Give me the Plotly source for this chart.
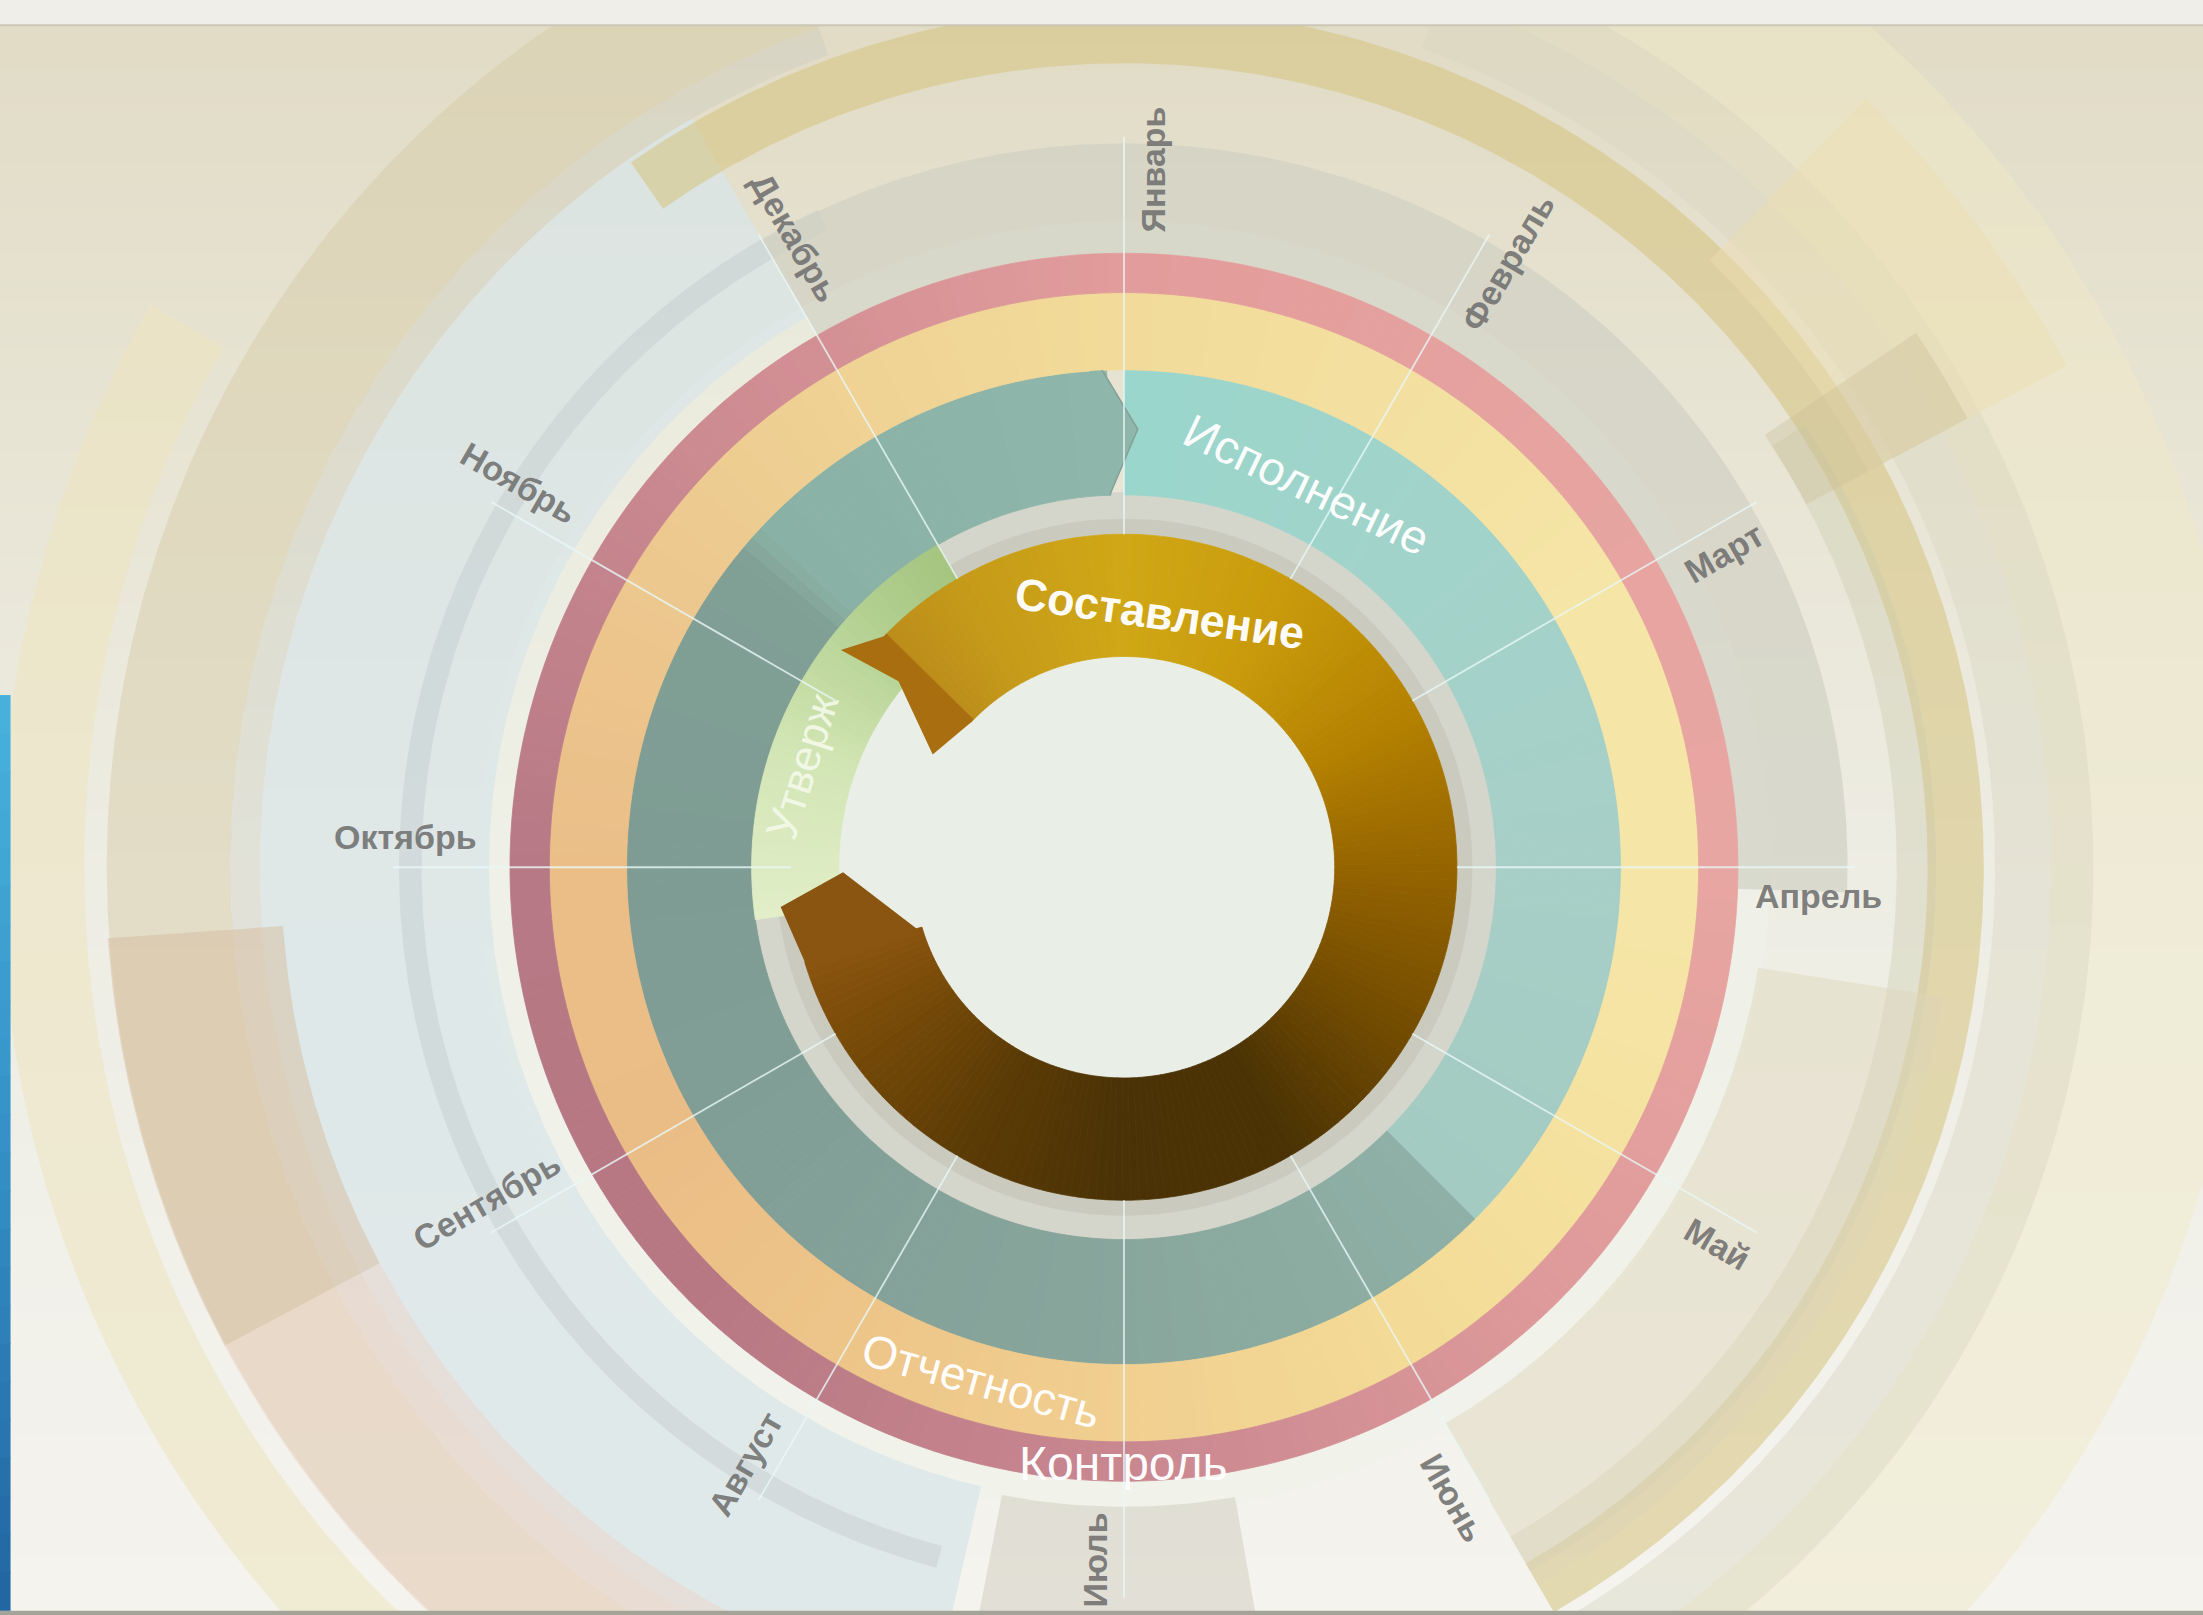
import numpy as np
import plotly.graph_objects as go

# ---------------- data ----------------
months = ["Январь", "Февраль", "Март", "Апрель", "Май", "Июнь",
          "Июль", "Август", "Сентябрь", "Октябрь", "Ноябрь", "Декабрь"]

phases = ["Составление", "Утверждение", "Исполнение", "Отчетность", "Контроль"]
# position along the year in months (0 = start of Январь, clockwise)
phase_start = [10.43, 8.73, 0.0, 0.0, 0.0]
phase_end = [20.45, 11.0, 4.5, 12.0, 12.0]
phase_text = ["Составление", "Утверж", "Исполнение", "Отчетность", "Контроль"]

# ---------------- style ----------------
W, H = 2203, 1615
UX0, UX1 = -800, 768          # design units (1 unit = 1.405 px)
UY0, UY1 = -532, 617
RP = 527                       # polar radius in design units
ring_in = [150, 203, 265, 354, 409]
ring_out = [237, 265, 354, 409, 437]
label_r = [182, 240, 302, 379, 424]
label_deg = [8, 287.5, 25.5, 195.5, 180]
label_size = [45, 44, 47, 46, 48]
label_bold = [True, False, False, False, False]
month_label_r = [497, 510, 482, 495, 500, 506, 493, 503, 512, 512, 510, 506]
DEG = 30.0


def hex2rgb(h):
    return np.array([int(h[i:i + 2], 16) for i in (1, 3, 5)], dtype=float)


def grad_colors(angles, stops):
    a = np.array([s[0] for s in stops], dtype=float)
    c = np.array([hex2rgb(s[1]) for s in stops])
    out = []
    for t in angles:
        rgb = [np.interp(t, a, c[:, k]) for k in range(3)]
        out.append("rgb(%d,%d,%d)" % tuple(int(round(v)) for v in rgb))
    return out


def grad_ring(t0, t1, rin, rout, stops, step=1.5):
    n = max(1, int(np.ceil(abs(t1 - t0) / step)))
    edges = np.linspace(t0, t1, n + 1)
    cen = (edges[:-1] + edges[1:]) / 2
    wid = np.diff(edges)
    cols = grad_colors(cen, stops)
    return go.Barpolar(theta=cen % 360, width=wid, base=[rin] * n, r=[rout - rin] * n,
                       marker=dict(color=cols, line=dict(color=cols, width=0.8)),
                       hoverinfo="skip", showlegend=False, subplot="polar")


def solid_ring(t0, t1, rin, rout, color):
    return go.Barpolar(theta=[((t0 + t1) / 2) % 360], width=[t1 - t0], base=[rin], r=[rout - rin],
                       marker=dict(color=color, line=dict(width=0)),
                       hoverinfo="skip", showlegend=False, subplot="polar")


def sector_xy(rin, rout, t0, t1):
    th = np.radians(np.linspace(t0, t1, int(abs(t1 - t0) * 2) + 2))
    x = np.concatenate([rout * np.sin(th), rin * np.sin(th[::-1])])
    y = np.concatenate([rout * np.cos(th), rin * np.cos(th[::-1])])
    return np.append(x, x[0]), np.append(y, y[0])


fig = go.Figure()

# ---------- background gradient ----------
yy = np.linspace(UY0, UY1, 40)
fig.add_trace(go.Heatmap(x=[UX0, UX1], y=yy, z=[[v, v] for v in yy], zsmooth="best",
                         colorscale=[[0, "#f4f3ee"], [0.45, "#eeede4"], [0.8, "#e6e2d0"], [1, "#e1dbc5"]],
                         showscale=False, hoverinfo="skip"))

# ---------- decorative outer rings ----------
decor = [
    (740, 800, 195, 300, "rgba(236,228,190,0.55)"),
    (660, 800, 25, 165, "rgba(240,232,198,0.45)"),
    (636, 724, 200, 345, "rgba(212,202,165,0.45)"),
    (615, 636, 200, 340, "rgba(195,198,190,0.30)"),
    (437, 460, 0, 360, "rgba(240,243,236,0.45)"),
    (452, 615, 193, 330, "rgba(218,229,232,0.75)"),
    (500, 516, 195, 335, "rgba(185,195,198,0.35)"),
    (600, 725, 242, 266, "rgba(214,188,158,0.50)"),
    (600, 725, 205, 242, "rgba(236,212,200,0.50)"),
    (437, 515, 330, 452, "rgba(208,208,195,0.70)"),
    (572, 612, 325, 510, "rgba(214,194,125,0.55)"),
    (550, 578, 57, 150, "rgba(200,200,170,0.35)"),
    (620, 690, 20, 160, "rgba(215,212,190,0.40)"),
    (600, 760, 44, 62, "rgba(238,222,175,0.45)"),
    (550, 680, 56, 62, "rgba(200,188,150,0.35)"),
    (455, 560, 170, 191, "rgba(205,200,185,0.45)"),
    (457, 590, 99, 150, "rgba(222,212,185,0.45)"),
]
for rin, rout, t0, t1, col in decor:
    x, y = sector_xy(rin, rout, t0, t1)
    fig.add_trace(go.Scatter(x=x, y=y, mode="lines", fill="toself", fillcolor=col,
                             line=dict(width=0), hoverinfo="skip", showlegend=False))

# ---------- main rings (polar) ----------
fig.add_trace(solid_ring(0, 360, 0, 203, "#e9eee6"))
fig.add_trace(solid_ring(0, 360, 237, 267, "#d5d6cb"))
fig.add_trace(solid_ring(0, 360, 237, 248, "rgba(120,120,100,0.12)"))

# Исполнение ring (teal)
s, e = phase_start[2] * DEG, phase_end[2] * DEG
fig.add_trace(grad_ring(e, 358, ring_in[2], ring_out[2],
                        [(135, "#8fb0a6"), (180, "#88a69c"), (230, "#819f96"), (270, "#7e9c93"),
                         (309, "#809f95"), (313, "#8ab1a5"), (340, "#8db4a8"), (358, "#8fb6aa")]))
fig.add_trace(grad_ring(s, e, ring_in[2], ring_out[2],
                        [(0, "#9ad6cc"), (45, "#a2d3ca"), (90, "#a7cfc7"), (135, "#a4cbc2")]))

# Отчетность ring (yellow / orange)
fig.add_trace(grad_ring(0, 360, ring_in[3], ring_out[3],
                        [(0, "#f2db9a"), (30, "#f3e0a0"), (60, "#f5e5a6"), (90, "#f5e6a8"),
                         (120, "#f5e2a0"), (150, "#f3da96"), (180, "#f1cf90"), (210, "#edc589"),
                         (240, "#ebbd86"), (270, "#ebbe88"), (300, "#ecc78e"), (330, "#efd294"),
                         (360, "#f2db9a")]))
# Контроль ring (pink)
fig.add_trace(grad_ring(0, 360, ring_in[4], ring_out[4],
                        [(0, "#e29c9b"), (45, "#e6a3a0"), (90, "#e8a6a2"), (135, "#de9a9a"),
                         (180, "#c98790"), (225, "#b77883"), (270, "#b67985"), (315, "#cc8a91"),
                         (360, "#e29c9b")]))

# Утверждение ring (green)
fig.add_trace(grad_ring(phase_start[1] * DEG, phase_end[1] * DEG, ring_in[1], ring_out[1],
                        [(262, "#e1eec8"), (290, "#d2e5b4"), (315, "#b2d090"), (330, "#a4c47f")]))

# Составление arrow (brown)
b0, b1 = phase_start[0] * DEG, phase_end[0] * DEG
fig.add_trace(grad_ring(b0 + 0.5, b1, ring_in[0], ring_out[0],
                        [(313, "#bb8c1a"), (330, "#c69a19"), (360, "#d0a716"), (390, "#c99b0c"),
                         (420, "#b68300"), (450, "#956400"), (480, "#734c00"), (510, "#4a3204"),
                         (540, "#4a3206"), (570, "#5b3b05"), (600, "#7a4c08"), (615, "#8b5510")]))

# teal chevron (scatter layer)
fig.add_trace(go.Scatterpolar(r=[ring_out[2], 312, ring_in[2], ring_in[2], ring_out[2]],
                              theta=[357.5, 1.8, 357.8, 356, 356], mode="lines", fill="toself",
                              fillcolor="#8fb6aa", line=dict(width=0),
                              hoverinfo="skip", showlegend=False, subplot="polar"))
fig.add_trace(go.Scatterpolar(r=[ring_out[2], 312, ring_in[2]], theta=[357.5, 1.8, 357.8], mode="lines",
                              line=dict(color="#83a197", width=1.5),
                              hoverinfo="skip", showlegend=False, subplot="polar"))

# month lines
lr, lt = [], []
for i in range(len(months)):
    lr += [ring_out[0], 520, None]
    lt += [i * DEG, i * DEG, None]
fig.add_trace(go.Scatterpolar(r=lr, theta=lt, mode="lines",
                              line=dict(color="rgba(232,247,247,0.8)", width=1.8),
                              hoverinfo="skip", showlegend=False, subplot="polar"))

# arrow tail and head
tail = b1 % 360
fig.add_trace(go.Scatterpolar(r=[ring_out[0], 246, 200, ring_in[0] + 3, ring_in[0], ring_in[0], ring_out[0]],
                              theta=[tail, 263.4, 269, 253, 253, tail - 1, tail - 1], mode="lines",
                              fill="toself", fillcolor="#8a5510", line=dict(width=0),
                              hoverinfo="skip", showlegend=False, subplot="polar"))
fig.add_trace(go.Scatterpolar(r=[ring_out[0], 254, 208, 158, ring_in[0], ring_in[0], ring_out[0]],
                              theta=[b0 + 1, 307.5, 309.5, 300.5, 313.5, 314.5, 314.5], mode="lines",
                              fill="toself", fillcolor="#a86e10", line=dict(width=0),
                              hoverinfo="skip", showlegend=False, subplot="polar"))

# ---------- annotations ----------
ann = []
for i, m in enumerate(months):
    th = i * DEG + 2.4
    r = month_label_r[i]
    ann.append(dict(x=r * np.sin(np.radians(th)), y=r * np.cos(np.radians(th)), xref="x", yref="y",
                    text="<b>%s</b>" % m, showarrow=False, textangle=((i * DEG) % 180) - 90,
                    font=dict(family="Liberation Sans, Arial", size=34, color="rgba(112,112,112,0.9)"),
                    xanchor="center", yanchor="middle"))
for k, txt in enumerate(phase_text):
    th = label_deg[k]
    rot = th - 180 if 90 < th < 270 else (th - 360 if th > 180 else th)
    ann.append(dict(x=label_r[k] * np.sin(np.radians(th)), y=label_r[k] * np.cos(np.radians(th)),
                    xref="x", yref="y", text=("<b>%s</b>" % txt) if label_bold[k] else txt,
                    showarrow=False, textangle=rot,
                    font=dict(family="Liberation Sans, Arial", size=label_size[k],
                              color="rgba(255,255,255,0.97)" if k != 1 else "rgba(245,250,235,0.9)"),
                    xanchor="center", yanchor="middle"))

# ---------- frame shapes ----------
shapes = [
    dict(type="rect", xref="x", yref="y", x0=UX0, x1=UX1, y0=599, y1=UY1 + 5,
         fillcolor="#efeee9", line=dict(width=0), layer="above"),
    dict(type="line", xref="x", yref="y", x0=UX0, x1=UX1, y0=599, y1=599,
         line=dict(color="rgba(200,196,180,0.9)", width=2), layer="above"),
    dict(type="rect", xref="x", yref="y", x0=UX0, x1=UX1, y0=UY0 - 5, y1=UY0 + 3,
         fillcolor="#a3a398", line=dict(width=0), layer="above"),
]
blue = grad_colors(np.linspace(0, 1, 24), [(0, "#47b1dc"), (0.5, "#3490c6"), (1, "#2266a2")])
ys = np.linspace(122, UY0 + 3, 25)
for j in range(24):
    shapes.append(dict(type="rect", xref="x", yref="y", x0=UX0 - 2, x1=UX0 + 7.5,
                       y0=ys[j + 1], y1=ys[j] + 0.5, fillcolor=blue[j], line=dict(width=0), layer="above"))

fig.update_layout(
    width=W, height=H, margin=dict(l=0, r=0, t=0, b=0),
    paper_bgcolor="#ebe9df", plot_bgcolor="#ebe9df",
    xaxis=dict(range=[UX0, UX1], visible=False, domain=[0, 1], fixedrange=True),
    yaxis=dict(range=[UY0, UY1], visible=False, domain=[0, 1], fixedrange=True),
    polar=dict(domain=dict(x=[(800 - RP) / 1568, (800 + RP) / 1568],
                           y=[(532 - RP) / 1149, (532 + RP) / 1149]),
               bgcolor="rgba(0,0,0,0)", barmode="overlay", bargap=0,
               radialaxis=dict(range=[0, RP], visible=False, showgrid=False),
               angularaxis=dict(rotation=90, direction="clockwise", visible=False, showgrid=False)),
    annotations=ann, shapes=shapes, showlegend=False,
)

fig.write_html("out.html", config={"displayModeBar": False},
               post_script="document.body.style.margin='0';document.body.style.overflow='hidden';")
